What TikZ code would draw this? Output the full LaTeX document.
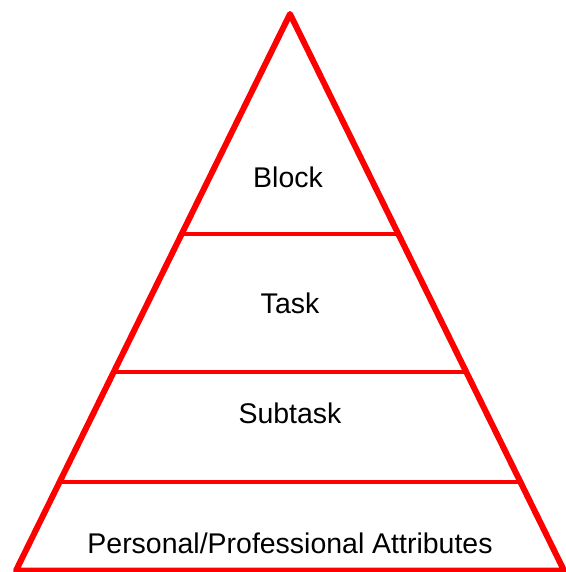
\documentclass[tikz,border=0pt]{standalone}
\usepackage{fontspec}
\setsansfont{Liberation Sans}
\usetikzlibrary{calc, positioning}
\definecolor{pyred}{RGB}{255,0,0}
\tikzset{%
  % Specifications for style of lines and nodes:
            outer/.style = {draw=pyred, line width=5.1pt, line join=round},
            level/.style = {draw=pyred, line width=3.3pt},
            tier/.style = {font=\sffamily\fontsize{24.3}{29}\selectfont, inner sep=0pt}
}
\begin{document}
\begin{tikzpicture}[x=0.03cm, y=0.03cm]
                \useasboundingbox (0,0) rectangle (565,572);

                \coordinate (apex) at (290,558);
                \coordinate (bl) at (16,1.5);
                \coordinate (br) at (564,1.5);

                % level lines
                \coordinate (l1) at ($(apex)!0.396!(bl)$);
                \coordinate (r1) at ($(apex)!0.396!(br)$);
                \coordinate (l2) at ($(apex)!0.643!(bl)$);
                \coordinate (r2) at ($(apex)!0.643!(br)$);
                \coordinate (l3) at ($(apex)!0.841!(bl)$);
                \coordinate (r3) at ($(apex)!0.841!(br)$);
                \draw[level] (l1) -- (r1);
                \draw[level] (l2) -- (r2);
                \draw[level] (l3) -- (r3);

                \draw[outer] (apex) -- (br) -- (bl) -- cycle;

                \node[tier] (block) at (288,395) {Block};
                \node[tier] (task) at (290,269) {Task};
                \node[tier] (subtask) at (290,159) {Subtask};
                \node[tier] (attr) at (290,29) {Personal/Professional Attributes};

            \end{tikzpicture}
\end{document}
